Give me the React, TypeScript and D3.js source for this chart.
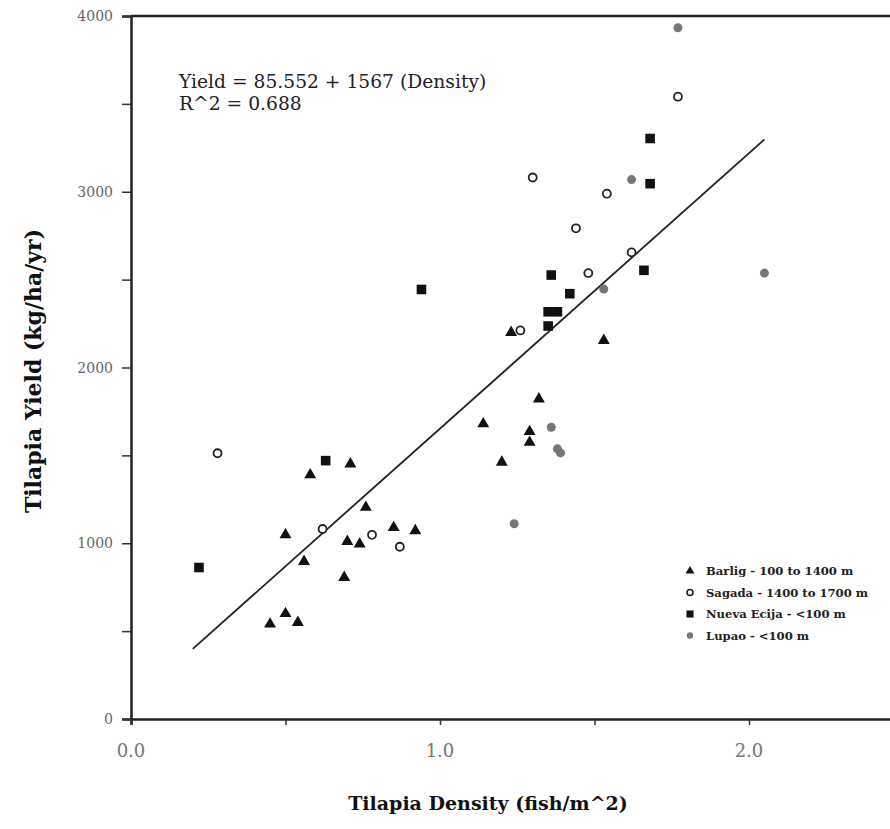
import React, { useRef, useEffect } from "react";
import * as d3 from "d3";

// Barlig - 100 to 1400 m (filled triangles)
const barligDensity = [0.45, 0.50, 0.54, 0.50, 0.56, 0.58, 0.69, 0.70, 0.71, 0.74, 0.76, 0.85, 0.92, 1.14, 1.20, 1.23, 1.29, 1.29, 1.32, 1.53];
const barligYield = [540, 600, 549, 1048, 896, 1389, 805, 1010, 1451, 995, 1204, 1090, 1071, 1679, 1461, 2199, 1635, 1574, 1821, 2154];

// Sagada - 1400 to 1700 m (open circles)
const sagadaDensity = [0.28, 0.62, 0.78, 0.87, 1.26, 1.30, 1.44, 1.48, 1.54, 1.62, 1.77];
const sagadaYield = [1512, 1081, 1048, 980, 2211, 3081, 2792, 2537, 2989, 2655, 3541];

// Nueva Ecija - <100 m (filled squares)
const nuevaDensity = [0.22, 0.63, 0.94, 1.35, 1.35, 1.38, 1.36, 1.42, 1.66, 1.68, 1.68];
const nuevaYield = [862, 1470, 2444, 2236, 2317, 2317, 2526, 2420, 2553, 3046, 3303];

// Lupao - <100 m (grey dots)
const lupaoDensity = [1.24, 1.36, 1.38, 1.39, 1.53, 1.62, 1.77, 2.05];
const lupaoYield = [1111, 1660, 1537, 1514, 2446, 3069, 3933, 2537];

const legendLabels = ["Barlig - 100 to 1400 m", "Sagada - 1400 to 1700 m", "Nueva Ecija - <100 m", "Lupao - <100 m"];

const intercept = 85.552;
const slope = 1567;
const fitRange = [0.2, 2.05];

const xTicks = [0, 0.5, 1, 1.5, 2];
const yTicks = [0, 500, 1000, 1500, 2000, 2500, 3000, 3500, 4000];
const xLabels = [0, 1, 2];
const yLabels = [0, 1000, 2000, 3000, 4000];

const serif = "'DejaVu Serif', 'Liberation Serif', serif";

const App = () => {
   const svgRef = useRef(null);

   useEffect(() => {
      const svg = d3.select(svgRef.current);
      svg.selectAll("*").remove();

      const left = 131, top = 16, bottom = 719;
      const xScale = d3.scaleLinear().domain([0, 2.5]).range([left, left + 2.5 * 309]);
      const yScale = d3.scaleLinear().domain([0, 4000]).range([bottom, top]);

      // axes
      const xAxis = svg.append("g")
         .attr("transform", `translate(0,${bottom})`)
         .call(d3.axisBottom(xScale).tickValues(xTicks).tickSize(6).tickFormat(() => ""));
      xAxis.select(".domain").attr("stroke", "#222").attr("stroke-width", 2.5);
      xAxis.selectAll(".tick line").attr("stroke", "#333").attr("stroke-width", 1.5);

      const yAxis = svg.append("g")
         .attr("transform", `translate(${left},0)`)
         .call(d3.axisLeft(yScale).tickValues(yTicks).tickSize(9).tickFormat(() => ""));
      yAxis.select(".domain").attr("stroke", "#222").attr("stroke-width", 2.5);
      yAxis.selectAll(".tick line").attr("stroke", "#333").attr("stroke-width", 1.5);

      // top frame line
      svg.append("line")
         .attr("x1", left).attr("x2", 890)
         .attr("y1", top).attr("y2", top)
         .attr("stroke", "#222").attr("stroke-width", 2.5);

      // tick labels
      svg.append("g").selectAll("text")
         .data(xLabels)
         .join("text")
         .attr("x", (d) => xScale(d))
         .attr("y", 757)
         .attr("text-anchor", "middle")
         .attr("font-family", serif)
         .attr("font-size", 18)
         .attr("fill", "#777")
         .text((d) => d.toFixed(1));

      svg.append("g").selectAll("text")
         .data(yLabels)
         .join("text")
         .attr("x", 113)
         .attr("y", (d) => yScale(d) + 5)
         .attr("text-anchor", "end")
         .attr("font-family", serif)
         .attr("font-size", 14)
         .attr("fill", "#666")
         .text((d) => d);

      // axis titles
      svg.append("text")
         .attr("x", 488).attr("y", 810)
         .attr("text-anchor", "middle")
         .attr("font-family", serif)
         .attr("font-weight", "bold")
         .attr("font-size", 19)
         .attr("fill", "#111")
         .text("Tilapia Density (fish/m^2)");

      svg.append("text")
         .attr("transform", "translate(41,371) rotate(-90)")
         .attr("text-anchor", "middle")
         .attr("font-family", serif)
         .attr("font-weight", "bold")
         .attr("font-size", 22)
         .attr("fill", "#111")
         .text("Tilapia Yield (kg/ha/yr)");

      // regression equation
      svg.append("text")
         .attr("x", 179).attr("y", 88)
         .attr("font-family", serif)
         .attr("font-size", 18.7)
         .attr("fill", "#222")
         .text("Yield = 85.552 + 1567 (Density)");
      svg.append("text")
         .attr("x", 179).attr("y", 110)
         .attr("font-family", serif)
         .attr("font-size", 18.7)
         .attr("fill", "#222")
         .text("R^2 = 0.688");

      // fitted line
      svg.append("line")
         .attr("x1", xScale(fitRange[0]))
         .attr("y1", yScale(intercept + slope * fitRange[0]))
         .attr("x2", xScale(fitRange[1]))
         .attr("y2", yScale(intercept + slope * fitRange[1]))
         .attr("stroke", "#222")
         .attr("stroke-width", 1.8);

      const pairs = (xs, ys) => xs.map((x, i) => [x, ys[i]]);
      const tri = d3.symbol().type(d3.symbolTriangle).size(62)();
      const sq = d3.symbol().type(d3.symbolSquare).size(92)();

      svg.append("g").selectAll("path")
         .data(pairs(nuevaDensity, nuevaYield))
         .join("path")
         .attr("d", sq)
         .attr("transform", (d) => `translate(${xScale(d[0])},${yScale(d[1])})`)
         .attr("fill", "#111");

      svg.append("g").selectAll("path")
         .data(pairs(barligDensity, barligYield))
         .join("path")
         .attr("d", tri)
         .attr("transform", (d) => `translate(${xScale(d[0])},${yScale(d[1])})`)
         .attr("fill", "#111");

      svg.append("g").selectAll("circle")
         .data(pairs(sagadaDensity, sagadaYield))
         .join("circle")
         .attr("cx", (d) => xScale(d[0]))
         .attr("cy", (d) => yScale(d[1]))
         .attr("r", 4)
         .attr("fill", "white")
         .attr("stroke", "#222")
         .attr("stroke-width", 1.8);

      svg.append("g").selectAll("circle")
         .data(pairs(lupaoDensity, lupaoYield))
         .join("circle")
         .attr("cx", (d) => xScale(d[0]))
         .attr("cy", (d) => yScale(d[1]))
         .attr("r", 4.5)
         .attr("fill", "#777");

      // legend
      const legend = svg.append("g").attr("transform", "translate(690,571)");
      const rows = legend.selectAll("g")
         .data(legendLabels)
         .join("g")
         .attr("transform", (d, i) => `translate(0,${i * 21.5})`);
      rows.filter((d, i) => i === 0).append("path")
         .attr("d", d3.symbol().type(d3.symbolTriangle).size(34)()).attr("fill", "#111");
      rows.filter((d, i) => i === 1).append("circle")
         .attr("r", 3).attr("fill", "white").attr("stroke", "#222").attr("stroke-width", 1.6);
      rows.filter((d, i) => i === 2).append("path")
         .attr("d", d3.symbol().type(d3.symbolSquare).size(50)()).attr("fill", "#111");
      rows.filter((d, i) => i === 3).append("circle")
         .attr("r", 3.2).attr("fill", "#777");
      rows.append("text")
         .attr("x", 16).attr("y", 4)
         .attr("font-family", serif)
         .attr("font-weight", "bold")
         .attr("font-size", 11.6)
         .attr("fill", "#222")
         .text((d) => d);
   }, []);

   return (
      <svg
         ref={svgRef}
         width='890'
         height='829'
         style={{ position: "absolute", left: 0, top: 0, background: "white" }}
      />
   );
};

export default App;
